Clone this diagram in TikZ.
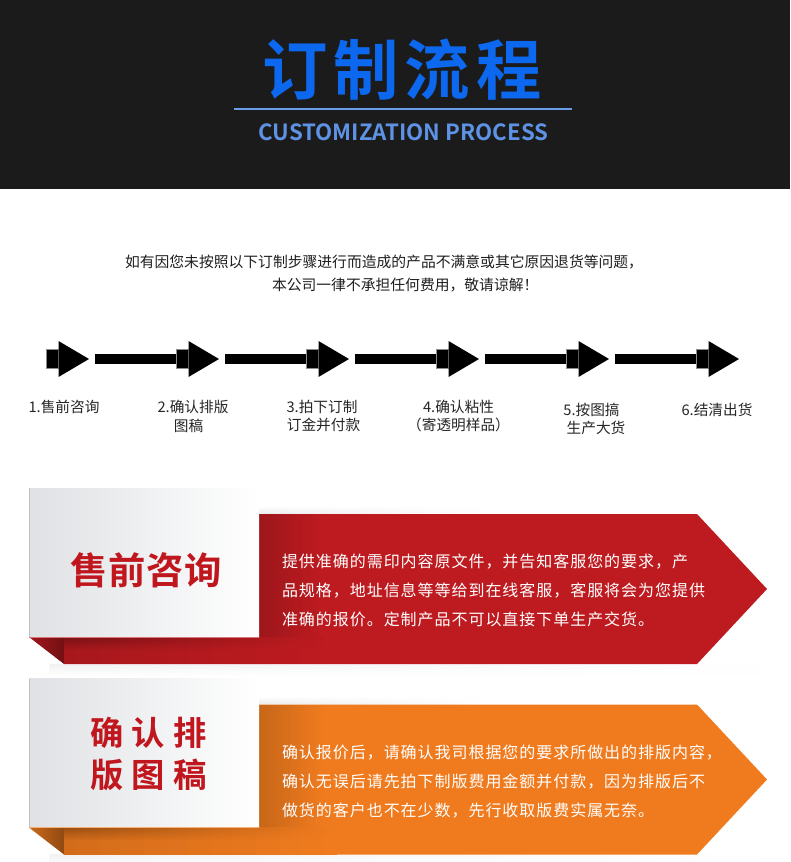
\documentclass[tikz,border=0pt]{standalone}
\usepackage{fontspec}
\usetikzlibrary{fadings}
\setmainfont{Noto Sans CJK SC}[BoldFont={Noto Sans CJK SC Bold}]
\newfontfamily\bodyfont{Noto Sans CJK SC}[LetterSpace=6]
\newfontfamily\stepfont{Noto Sans CJK SC}
\newfontfamily\titlefont{Noto Sans CJK SC Bold}[LetterSpace=9]
\newfontfamily\engfont{Noto Sans CJK SC Bold}
\newfontfamily\cardfont{Noto Sans CJK SC Bold}[LetterSpace=24]
\newfontfamily\cardfonta{Noto Sans CJK SC Bold}[LetterSpace=2]
\definecolor{bgdark}{HTML}{1C1B1B}
\definecolor{titleblue}{HTML}{0D68F0}
\definecolor{ruleblue}{HTML}{6C9DEB}
\definecolor{engblue}{HTML}{5E92E4}
\definecolor{cardred}{HTML}{C0171F}
\definecolor{panelred}{HTML}{BE1B20}
\definecolor{panelorange}{HTML}{F07B1E}
\definecolor{cardgray}{HTML}{DFE1E4}
\tikzset{
  txt/.style={inner sep=0pt,outer sep=0pt},
  bodytxt/.style={txt,anchor=west,white,font=\bodyfont\fontsize{12}{14}\selectfont},
  steptxt/.style={txt,font=\stepfont\fontsize{11}{13}\selectfont,text=black!85},
  noticetxt/.style={txt,font=\stepfont\fontsize{11.1}{13}\selectfont,text=black!88},
  stepsq/.style={fill=black,draw=black!45,line width=.4pt},
  bar/.style={black,line width=7.5pt},
}
\tikzfading[name=fadeE,left color=transparent!0,right color=transparent!100]
\begin{document}
\begin{tikzpicture}[x=.75pt,y=-.75pt]
\useasboundingbox (0,0) rectangle (790,862);
\fill[white] (0,0) rectangle (790,862);
% header
\fill[bgdark] (0,0) rectangle (790,189);
\node[txt,font=\titlefont\fontsize{49}{55}\selectfont,text=titleblue] (title) at (402,70) {订制流程};
\fill[ruleblue] (234,108) rectangle (572,110);
\node[txt,font=\engfont\fontsize{16.7}{20}\selectfont,text=engblue] (eng) at (403.5,132) {CUSTOMIZATION PROCESS};
% notice
\node[noticetxt,anchor=west] (n1) at (125,262.5) {如有因您未按照以下订制步骤进行而造成的产品不满意或其它原因退货等问题，};
\node[noticetxt,anchor=west] (n2) at (272,285.5) {本公司一律不承担任何费用，敬请谅解！};
% steps
\foreach \i/\x in {1/46,2/176,3/306,4/436,5/566,6/696}{
  \draw[stepsq] (\x,349.5) rectangle (\x+12,368);
  \fill[black] (\x+12.5,341) -- (\x+43,359) -- (\x+12.5,377) -- cycle;
  \coordinate (tip\i) at (\x+49,359);
  \coordinate (sq\i) at (\x,359);
}
\foreach \a/\b in {1/2,2/3,3/4,4/5,5/6} \draw[bar] (tip\a) -- (sq\b);
\node[steptxt] (l1) at (64,406.5) {1.售前咨询};
\node[steptxt] (l2) at (193,406.5) {2.确认排版};
\node[steptxt] (l2b) at (188.5,425.5) {图稿};
\node[steptxt] (l3) at (322,406.5) {3.拍下订制};
\node[steptxt] (l3b) at (323.5,424.5) {订金并付款};
\node[steptxt] (l4) at (458.5,406.5) {4.确认粘性};
\node[steptxt] (l4b) at (458.5,424.5) {（寄透明样品）};
\node[steptxt] (l5) at (591.5,409.5) {5.按图搞};
\node[steptxt] (l5b) at (596,427.5) {生产大货};
\node[steptxt] (l6) at (717,409.5) {6.结清出货};
% panel: #1 card top y, #2 base colour, #3 fold dark colour
\newcommand\panel[3]{%
  \begin{scope}[yshift=#1*-.75pt]
    \shade[top color=black!5,bottom color=white,path fading=fadeE] (50,176) rectangle (760,188);
    \shade[top color=white,bottom color=black!8,path fading=fadeE] (259,18) rectangle (480,26);
    \fill[#2] (259,26) -- (697,26) -- (767,101) -- (697,176) -- (64,176) -- (64,149) -- (259,149) -- cycle;
    % gradient to the right of the card
    \foreach \s in {0,...,32}{
      \pgfmathtruncatemacro\m{round(100-17*(1-\s/32))}
      \fill[#2!\m!black] (259+2*\s,26) rectangle (262+2*\s,149);
    }
    % gradient of the band under the card
    \foreach \s in {0,...,67}{
      \pgfmathtruncatemacro\mt{round(100-36*(1-\s/67))}
      \pgfmathtruncatemacro\mb{round(100-12*(1-\s/67))}
      \shade[top color=#2!\mt!black,bottom color=#2!\mb!black,middle color=#2!\mb!black] (64+4*\s,149) rectangle (69+4*\s,175.7);
    }
    \shade[left color=#2!85!black,right color=#3] (29,149) -- (64,149) -- (64,176) -- cycle;
    \shade[left color=cardgray,right color=white] (29,0) rectangle (259,149);
    \draw[black!25,line width=.4pt] (29,0) -- (29,149);
    \draw[#2!60!white,line width=.4pt] (29,149) -- (259,149);
  \end{scope}
}
\panel{488}{panelred}{panelred!60!black}
\panel{678.5}{panelorange}{panelorange!60!black}
% panel 1 text
\node[txt,font=\cardfonta\fontsize{28}{32}\selectfont,text=cardred] (c1) at (146,570) {售前咨询};
\node[bodytxt] (b1) at (282,561.5) {提供准确的需印内容原文件，并告知客服您的要求，产};
\node[bodytxt] (b2) at (282,590.5) {品规格，地址信息等等给到在线客服，客服将会为您提供};
\node[bodytxt] (b3) at (282,619.5) {准确的报价。定制产品不可以直接下单生产交货。};
% panel 2 text
\node[txt,font=\cardfont\fontsize{25}{30}\selectfont,text=cardred] (c2) at (148.5,733) {确认排};
\node[txt,font=\cardfont\fontsize{25}{30}\selectfont,text=cardred] (c3) at (148.5,775) {版图稿};
\node[bodytxt] (b4) at (282,752.5) {确认报价后，请确认我司根据您的要求所做出的排版内容，};
\node[bodytxt] (b5) at (282,781.5) {确认无误后请先拍下制版费用金额并付款，因为排版后不};
\node[bodytxt] (b6) at (282,810.5) {做货的客户也不在少数，先行收取版费实属无奈。};
\end{tikzpicture}
\end{document}
